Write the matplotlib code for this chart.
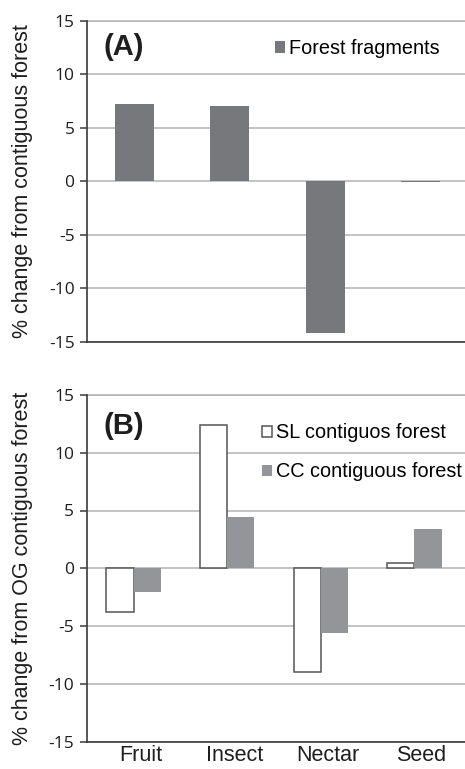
import matplotlib
matplotlib.use("Agg")
import matplotlib.pyplot as plt
import matplotlib.transforms as mtransforms
import numpy as np

categories = ["Fruit", "Insect", "Nectar", "Seed"]
fragments = [7.25, 7.0, -14.2, -0.1]
sl_contig = [-3.76, 12.37, -9.02, 0.49]
cc_contig = [-2.08, 4.42, -5.64, 3.43]
yticks = [-15, -10, -5, 0, 5, 10, 15]

W, H = 465, 769
fig = plt.figure(figsize=(W / 100, H / 100), dpi=100)

SANS = ["Liberation Sans", "DejaVu Sans"]
TICKF = ["Open Sans", "DejaVu Sans"]
SPINE = "#3a3a3a"
GRID = "#b3b3b3"
DARK = "#77787b"
MID = "#939598"
TXT = "#1e1e1e"


def px_axes(left, top, right, bottom):
    return fig.add_axes([left / W, 1 - bottom / H, (right - left) / W, (bottom - top) / H])


def style(ax, xmax):
    ax.set_ylim(-15, 15)
    ax.set_xlim(-0.5, xmax)
    ax.set_yticks(yticks)
    ax.set_yticklabels([str(t) for t in yticks], family=TICKF, fontsize=12.5, color=TXT)
    ax.yaxis.grid(True, color=GRID, linewidth=1.1)
    ax.set_axisbelow(True)
    for s in ("top", "right"):
        ax.spines[s].set_visible(False)
    for s in ("left", "bottom"):
        ax.spines[s].set_color(SPINE)
        ax.spines[s].set_linewidth(1.2)
    ax.tick_params(axis="y", direction="out", length=5, width=1.1, color=SPINE, pad=4)
    ax.tick_params(axis="x", length=0)
    ax.axhline(15, color=GRID, linewidth=1.1, zorder=0.5, clip_on=False)


x = np.arange(len(categories))

# Panel A
axA = px_axes(87, 20.7, 465, 342)
style(axA, 3.47)
axA.set_xticks(x)
axA.set_xticklabels([])
barsA = axA.bar(x, fragments, width=0.41, color=DARK, label="Forest fragments", zorder=2)
axA.set_ylabel("% change from contiguous forest", family=SANS, fontsize=15.5, color=TXT)
axA.yaxis.set_label_coords((33 - 87) / 378, 0.5)
axA.text(103 / W, 1 - 47 / H, "(A)", transform=fig.transFigure, family=SANS, fontsize=21,
         fontweight="bold", va="center", ha="left", color=TXT)
axA.legend(handles=[barsA], loc="upper left", bbox_to_anchor=(275 / W, 1 - 39 / H),
           bbox_transform=fig.transFigure, frameon=False, borderpad=0, borderaxespad=0,
           handlelength=0.52, handleheight=0.52, handletextpad=0.2,
           prop={"family": SANS, "size": 14.3})

# Panel B
axB = px_axes(86.7, 395, 465, 741.5)
style(axB, 3.54)
w = 0.29
barsSL = axB.bar(x - w / 2, sl_contig, width=w, facecolor="white", edgecolor="#555555",
                 linewidth=1.1, label="SL contiguos forest", zorder=2)
barsCC = axB.bar(x + w / 2, cc_contig, width=w, color=MID, label="CC contiguous forest", zorder=2)
axB.set_xticks(x)
axB.set_xticklabels(categories, family=SANS, fontsize=15.5, color=TXT)
axB.tick_params(axis="x", pad=2.5)
shift = mtransforms.ScaledTranslation(7 / 100, 0, fig.dpi_scale_trans)
for lab in axB.get_xticklabels():
    lab.set_transform(lab.get_transform() + shift)
axB.set_ylabel("% change from OG contiguous forest", family=SANS, fontsize=15.5, color=TXT)
axB.yaxis.set_label_coords((33 - 86.7) / 378.3, 0.5)
axB.text(103 / W, 1 - 425.5 / H, "(B)", transform=fig.transFigure, family=SANS, fontsize=21,
         fontweight="bold", va="center", ha="left", color=TXT)
axB.legend(handles=[barsSL, barsCC], loc="upper left", bbox_to_anchor=(262 / W, 1 - 423.5 / H),
           bbox_transform=fig.transFigure, frameon=False, borderpad=0, borderaxespad=0,
           handlelength=0.52, handleheight=0.52, handletextpad=0.2, labelspacing=1.0,
           prop={"family": SANS, "size": 14.3})

fig.savefig("out.png", dpi=100)
